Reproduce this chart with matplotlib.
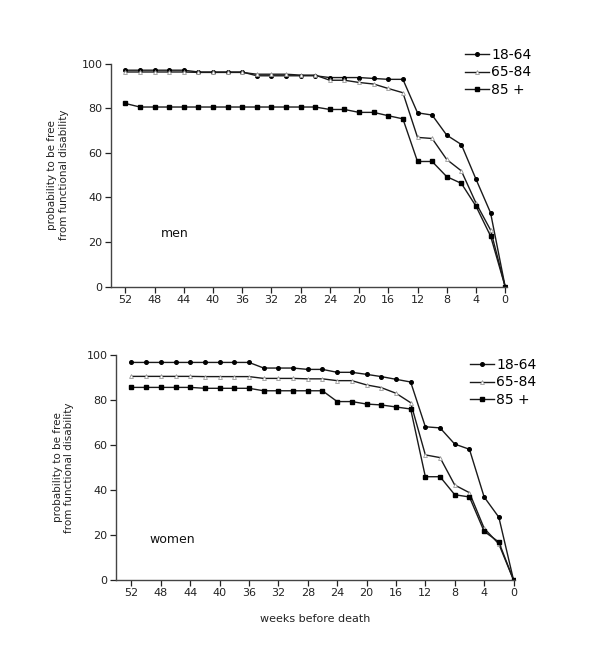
import matplotlib
matplotlib.use("Agg")
import matplotlib.pyplot as plt
import numpy as np

weeks = list(range(52, -1, -2))
x_ticks = [52, 48, 44, 40, 36, 32, 28, 24, 20, 16, 12, 8, 4, 0]
y_ticks = [0, 20, 40, 60, 80, 100]
groups = ["18-64", "65-84", "85 +"]

men_18_64 = [97.0, 97.0, 97.0, 97.0, 97.0, 96.2, 96.2, 96.2, 96.2, 94.5, 94.5, 94.5, 94.5, 94.5,
             93.7, 93.7, 93.7, 93.3, 92.9, 92.9, 77.9, 76.9, 67.9, 63.7, 48.2, 33.1, 0.0]
men_65_84 = [96.2, 96.2, 96.2, 96.2, 96.2, 96.0, 96.0, 96.0, 96.0, 95.2, 95.2, 95.2, 94.8, 94.8,
             92.5, 92.5, 91.5, 90.8, 88.8, 86.9, 66.9, 66.4, 57.0, 51.9, 37.5, 25.4, 0.0]
men_85 = [82.1, 80.5, 80.5, 80.5, 80.5, 80.5, 80.5, 80.5, 80.5, 80.5, 80.5, 80.5, 80.5, 80.5,
          79.4, 79.4, 78.1, 78.1, 76.6, 75.2, 56.1, 56.1, 49.3, 46.3, 36.1, 22.7, 0.0]

women_18_64 = [96.7, 96.7, 96.7, 96.7, 96.7, 96.7, 96.7, 96.7, 96.7, 94.2, 94.2, 94.2, 93.6, 93.6,
               92.3, 92.3, 91.4, 90.4, 89.2, 88.0, 68.1, 67.6, 60.4, 58.1, 36.9, 27.9, 0.0]
women_65_84 = [90.5, 90.5, 90.5, 90.5, 90.5, 90.4, 90.4, 90.4, 90.4, 89.6, 89.6, 89.6, 89.4, 89.4,
               88.6, 88.6, 86.7, 85.5, 83.0, 78.8, 55.6, 54.4, 42.2, 38.8, 23.0, 16.0, 0.0]
women_85 = [85.6, 85.6, 85.6, 85.6, 85.6, 85.2, 85.2, 85.2, 85.2, 84.1, 84.1, 84.1, 84.1, 84.1,
            79.3, 79.3, 78.2, 77.8, 76.9, 76.0, 45.9, 45.9, 37.9, 36.9, 21.6, 16.9, 0.0]

W, H = 600, 668
fig = plt.figure(figsize=(W / 100, H / 100), dpi=100)
fig.patch.set_facecolor("white")

styles = [
    dict(marker="o", markersize=2.6, markerfacecolor="black", markeredgecolor="black"),
    dict(marker="^", markersize=2.8, markerfacecolor="white", markeredgecolor="#999999", markeredgewidth=0.6),
    dict(marker="s", markersize=3.0, markerfacecolor="black", markeredgecolor="black"),
]

def px_axes(l, t, r, b):
    return fig.add_axes([l / W, 1 - b / H, (r - l) / W, (b - t) / H])

def panel(ax, series, label, label_xy, xlim):
    for vals, st, g in zip(series, styles, groups):
        ax.plot(weeks, vals, color="#1a1a1a", linewidth=1.0, label=g, **st)
    ax.set_xlim(*xlim)
    ax.set_ylim(0, 100)
    ax.set_xticks(x_ticks)
    ax.set_yticks(y_ticks)
    ax.tick_params(direction="out", length=4, width=0.9, labelsize=8, colors="#222222", pad=2)
    for s in ["top", "right"]:
        ax.spines[s].set_visible(False)
    for s in ["left", "bottom"]:
        ax.spines[s].set_color("#444444")
        ax.spines[s].set_linewidth(1.0)
    ax.text(label_xy[0], label_xy[1], label, fontsize=9, ha="center", va="center", color="#111111")
    ax.set_ylabel("probability to be free\nfrom functional disability", fontsize=7.5, labelpad=9, color="#222222")
    ax.patch.set_alpha(0)

leg_kw = dict(loc="upper left", bbox_transform=fig.transFigure, frameon=False, fontsize=10,
              handlelength=1.7, handletextpad=0.2, labelspacing=0.25, borderpad=0, borderaxespad=0)

ax1 = px_axes(110.7, 63.5, 507, 286.7)
panel(ax1, [men_18_64, men_65_84, men_85], "men", (45.3, 24), (54.0, -0.25))
ax1.legend(bbox_to_anchor=(465 / W, 1 - 48 / H), **leg_kw)

ax2 = px_axes(116, 355, 515, 580)
panel(ax2, [women_18_64, women_65_84, women_85], "women", (46.5, 17.8), (54.1, -0.2))
ax2.legend(bbox_to_anchor=(470 / W, 1 - 358 / H), **leg_kw)
ax2.set_xlabel("weeks before death", fontsize=8, labelpad=11, color="#222222")

fig.savefig("out.png", dpi=100, facecolor="white")
